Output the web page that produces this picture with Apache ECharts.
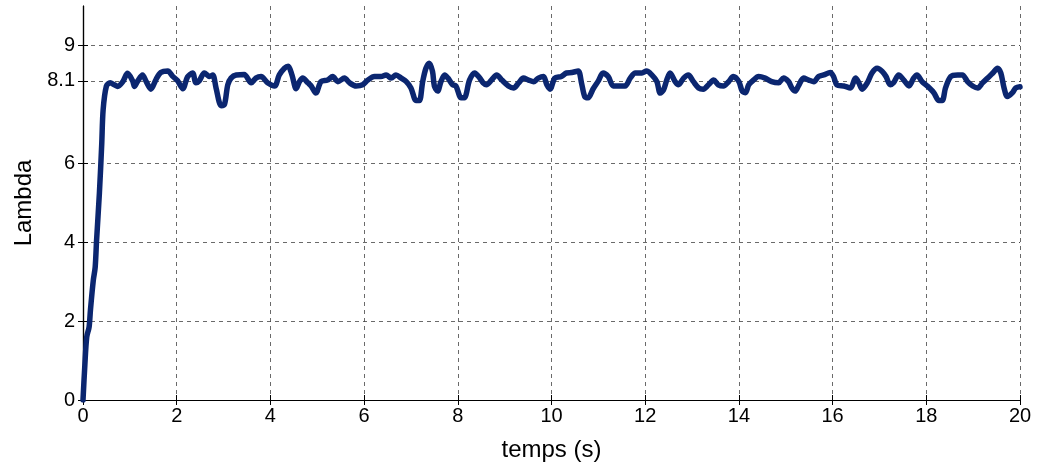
<!DOCTYPE html>
<html>
<head>
<meta charset="utf-8">
<title>Lambda</title>
<script src="https://cdn.jsdelivr.net/npm/echarts@6/dist/echarts.min.js"></script>
<style>
    html, body { margin: 0; padding: 0; background: #fff; }
    #chart { width: 1038px; height: 468px; }
</style>
</head>
<body>
<div id="chart"></div>
<script>
// temps (s)
var temps = [
    0, 0.04, 0.08, 0.13, 0.16, 0.22, 0.26, 0.29, 0.35, 0.40, 0.43, 0.50, 0.58, 0.67, 0.74, 0.85, 0.95,
    1.06, 1.10, 1.17, 1.27, 1.35, 1.45, 1.56, 1.66, 1.81, 1.91, 2.02, 2.13, 2.23, 2.34, 2.41, 2.48,
    2.59, 2.70, 2.77, 2.84, 2.95, 3.02, 3.09, 3.16, 3.27, 3.44, 3.59, 3.69, 3.80, 3.94, 4.09, 4.19,
    4.30, 4.38, 4.46, 4.55, 4.62, 4.69, 4.80, 4.87, 4.97, 5.08, 5.22, 5.33, 5.44, 5.58, 5.69, 5.83,
    5.97, 6.08, 6.22, 6.36, 6.47, 6.58, 6.68, 6.79, 6.90, 7.00, 7.11, 7.18, 7.25, 7.32, 7.39, 7.46,
    7.50, 7.57, 7.64, 7.72, 7.79, 7.89, 7.96, 8.07, 8.14, 8.25, 8.36, 8.47, 8.54, 8.61, 8.72, 8.83,
    8.94, 9.08, 9.19, 9.30, 9.40, 9.51, 9.62, 9.72, 9.83, 9.90, 9.97,
    10.07, 10.21, 10.32, 10.43, 10.57, 10.64, 10.71, 10.78, 10.89, 11.00, 11.10, 11.21, 11.32, 11.43,
    11.57, 11.68, 11.79, 11.93, 12.03, 12.14, 12.25, 12.32, 12.39, 12.46, 12.53, 12.64, 12.71, 12.82,
    12.92, 13.03, 13.14, 13.24, 13.35, 13.46, 13.56, 13.67, 13.78, 13.88, 14.00, 14.07, 14.14, 14.21,
    14.31, 14.42, 14.56, 14.70, 14.85, 14.95, 15.06, 15.13, 15.20, 15.27, 15.38, 15.49, 15.60, 15.70,
    15.81, 15.95, 16.02, 16.09, 16.24, 16.38, 16.49, 16.56, 16.63, 16.74, 16.84, 16.95, 17.06, 17.14,
    17.23, 17.30, 17.41, 17.52, 17.63, 17.73, 17.80, 17.91, 18.02, 18.16, 18.27, 18.34, 18.41, 18.52,
    18.67, 18.77, 18.88, 18.99, 19.10, 19.20, 19.31, 19.42, 19.52, 19.59, 19.66, 19.73, 19.84, 19.91, 20.0
];
// Lambda
var lambda = [
    0, 0.9, 1.6, 1.85, 2.3, 3.04, 3.37, 4.06, 5.25, 6.5, 7.37, 7.97, 8.05, 8.0, 7.96, 8.08, 8.29,
    8.1, 7.96, 8.1, 8.25, 8.08, 7.89, 8.14, 8.31, 8.35, 8.22, 8.1, 7.9, 8.2, 8.3, 8.05, 8.1,
    8.3, 8.21, 8.25, 7.92, 7.47, 7.5, 8.0, 8.17, 8.25, 8.26, 8.05, 8.17, 8.21, 8.05, 7.97, 8.25,
    8.42, 8.47, 8.25, 7.9, 8.08, 8.17, 8.05, 7.97, 7.79, 8.08, 8.12, 8.21, 8.08, 8.17, 8.05, 7.97,
    8.0, 8.12, 8.21, 8.21, 8.25, 8.17, 8.25, 8.17, 8.08, 7.92, 7.6, 7.6, 8.08, 8.42, 8.55, 8.34,
    7.97, 7.84, 8.08, 8.25, 8.17, 8.0, 7.97, 7.67, 7.67, 8.12, 8.3, 8.17, 8.05, 8.0, 8.12, 8.25,
    8.12, 7.97, 7.92, 8.05, 8.17, 8.12, 8.08, 8.17, 8.21, 8.0, 7.89,
    8.17, 8.21, 8.3, 8.31, 8.35, 8.05, 7.7, 7.67, 7.9, 8.1, 8.3, 8.21, 7.97, 7.97,
    7.97, 8.17, 8.3, 8.3, 8.35, 8.25, 8.08, 7.79, 7.87, 8.12, 8.3, 8.08, 8.0, 8.17,
    8.25, 8.08, 7.92, 7.89, 8.0, 8.12, 8.0, 7.97, 8.08, 8.21, 8.08, 7.84, 7.8, 8.0,
    8.12, 8.21, 8.17, 8.08, 8.05, 8.17, 8.08, 7.92, 7.84, 7.97, 8.17, 8.12, 8.08, 8.21,
    8.25, 8.31, 8.21, 8.0, 7.97, 7.92, 8.17, 8.05, 7.89, 8.05, 8.3, 8.42, 8.34, 8.21,
    8.0, 8.05, 8.25, 8.12, 7.97, 8.17, 8.25, 8.08, 7.97, 7.8, 7.6, 7.6, 7.92, 8.21,
    8.25, 8.25, 8.08, 7.97, 7.92, 8.05, 8.17, 8.3, 8.42, 8.3, 7.92, 7.7, 7.8, 7.92, 7.95
];
var xTicks = [0, 2, 4, 6, 8, 10, 12, 14, 16, 18, 20];
var yTicks = [0, 2, 4, 6, 8.1, 9];

var chart = echarts.init(document.getElementById('chart'));

var seriesData = temps.map(function (t, i) { return [t, lambda[i]]; });

var font = '"Liberation Sans", Arial, sans-serif';
var gridDash = { color: '#444', width: 0.8, type: [4, 4] };

var option = {
    animation: false,
    grid: { left: 83, right: 18, top: 6, bottom: 68, containLabel: false },
    xAxis: [
        {
            type: 'value', min: 0, max: 20, interval: 2,
            name: 'temps (s)', nameLocation: 'middle', nameGap: 38,
            nameTextStyle: { fontFamily: font, fontSize: 24, color: '#000' },
            axisLine: { lineStyle: { color: '#000', width: 1.2 } },
            axisTick: { inside: true, length: 5, lineStyle: { color: '#000' } },
            axisLabel: { fontFamily: font, fontSize: 20, color: '#000', margin: 6,
                customValues: xTicks },
            splitLine: { show: true, lineStyle: gridDash }
        },
        {
            type: 'value', min: 0, max: 20, interval: 2, position: 'top',
            axisLine: { show: true, lineStyle: { color: '#000', width: 1.2 } },
            axisTick: { inside: true, length: 5, lineStyle: { color: '#000' } },
            axisLabel: { show: false },
            splitLine: { show: false }
        }
    ],
    yAxis: [
        {
            type: 'value', min: 0, max: 10,
            name: 'Lambda', nameLocation: 'middle', nameGap: 46,
            nameTextStyle: { fontFamily: font, fontSize: 24, color: '#000' },
            axisLine: { show: true, lineStyle: { color: '#000', width: 1.2 } },
            axisTick: { inside: true, length: 5, lineStyle: { color: '#000' }, customValues: yTicks },
            axisLabel: {
                customValues: yTicks,
                margin: 8,
                hideOverlap: false,
                overflow: 'none',
                fontFamily: font, fontSize: 20, color: '#000',
                formatter: function (v) { return String(v); }
            },
            splitLine: { show: true, lineStyle: gridDash }
        },
        {
            type: 'value', min: 0, max: 10, position: 'right',
            axisLine: { show: true, lineStyle: { color: '#000', width: 1.2 } },
            axisTick: { inside: true, length: 5, lineStyle: { color: '#000' }, customValues: yTicks },
            axisLabel: { show: false },
            splitLine: { show: false }
        }
    ],
    series: [
        {
            type: 'line',
            data: seriesData,
            showSymbol: false,
            smooth: 0.3,
            clip: true,
            lineStyle: { color: '#0b2670', width: 5.5, cap: 'round', join: 'round' },
            z: 5
        }
    ]
};

chart.setOption(option);
</script>
</body>
</html>
